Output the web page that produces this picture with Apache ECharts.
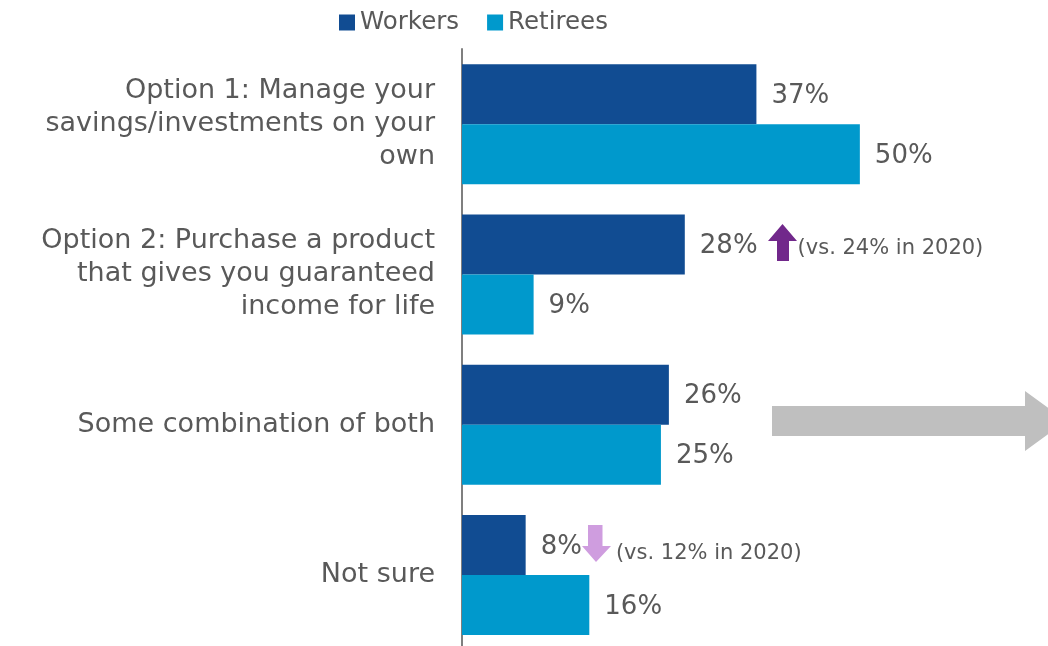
<!DOCTYPE html>
<html>
<head>
<meta charset="utf-8">
<script src="https://cdn.jsdelivr.net/npm/echarts@6/dist/echarts.min.js"></script>
<style>
  html, body { margin: 0; padding: 0; background: #ffffff; overflow: hidden; }
  /* canvas runs a little past the bottom edge so the last bars keep full spacing */
  #chart { width: 1048px; height: 660px; }
</style>
</head>
<body>
<div id="chart"></div>
<script>
// Preferred retirement income approach, workers vs. retirees (percent)
const categories = [
  'Option 1: Manage your\nsavings/investments on your\nown',
  'Option 2: Purchase a product\nthat gives you guaranteed\nincome for life',
  'Some combination of both',
  'Not sure'
];
const workers = [37, 28, 26, 8];
const retirees = [50, 9, 25, 16];
// Change notes vs. 2020 for the workers series (empty = none)
const workerNotes = ['', '(vs. 24% in 2020)', '', '(vs. 12% in 2020)'];

const TEXT = '#595959';
const FONT = 'DejaVu Sans';

const chart = echarts.init(document.getElementById('chart'), null, { renderer: 'canvas' });

chart.setOption({
  animation: false,
  textStyle: { fontFamily: FONT },
  legend: {
    top: 5,
    left: 334,
    itemWidth: 16,
    itemHeight: 16,
    itemGap: 28,
    icon: 'rect',
    textStyle: { fontSize: 24.5, color: TEXT, fontFamily: FONT },
    data: ['Workers', 'Retirees']
  },
  grid: { left: 462, top: 49, width: 557, height: 601, containLabel: false },
  xAxis: {
    type: 'value',
    min: 0,
    max: 70,
    show: false
  },
  yAxis: {
    type: 'category',
    inverse: true,
    data: categories,
    axisLine: { show: true, lineStyle: { color: '#7f7f7f', width: 2 } },
    axisTick: { show: false },
    axisLabel: {
      fontSize: 27,
      color: TEXT,
      fontFamily: FONT,
      lineHeight: 33,
      margin: 27,
      padding: [0, 0, 2, 0],
      align: 'right'
    }
  },
  series: [
    {
      name: 'Workers',
      type: 'bar',
      data: workers,
      barWidth: 60,
      barGap: '0%',
      barCategoryGap: '20%',
      itemStyle: { color: '#114c92' },
      label: {
        show: true,
        position: 'right',
        distance: 15,
        offset: [0, 2],
        fontFamily: FONT,
        formatter: p => {
          const note = workerNotes[p.dataIndex];
          const v = '{v|' + p.value + '%}';
          if (!note) return v;
          const gap = p.value > 20 ? 'g1' : 'g2';
          const n = p.value > 20 ? 'n1' : 'n2';
          return v + '{' + gap + '|}{' + n + '|' + note + '}';
        },
        rich: {
          v: { fontSize: 26, color: TEXT, fontFamily: FONT },
          g1: { width: 40 },
          g2: { width: 34 },
          n1: { fontSize: 21, color: TEXT, fontFamily: FONT, padding: [5, 0, 0, 0] },
          n2: { fontSize: 21, color: TEXT, fontFamily: FONT, padding: [14, 0, 0, 0] }
        }
      }
    },
    {
      name: 'Retirees',
      type: 'bar',
      data: retirees,
      barWidth: 60,
      itemStyle: { color: '#0099cc' },
      label: {
        show: true,
        position: 'right',
        distance: 15,
        offset: [0, 2],
        fontSize: 26,
        color: TEXT,
        fontFamily: FONT,
        formatter: '{c}%'
      }
    }
  ],
  graphic: [
    // up arrow next to Option 2 workers label
    {
      type: 'polygon',
      shape: { points: [[768, 241], [782.5, 224], [797, 241], [789, 241], [789, 261], [777, 261], [777, 241]] },
      style: { fill: '#71288b' }
    },
    // down arrow next to Not sure workers label
    {
      type: 'polygon',
      shape: { points: [[588, 525], [602.5, 525], [602.5, 546], [611, 546], [596, 562], [582, 546], [588, 546]] },
      style: { fill: '#cf9ddf' }
    },
    // large grey arrow pointing right
    {
      type: 'polygon',
      shape: { points: [[772, 406], [1025, 406], [1025, 391], [1066, 421], [1025, 451], [1025, 436], [772, 436]] },
      style: { fill: '#bfbfbf' }
    }
  ]
});
</script>
</body>
</html>
